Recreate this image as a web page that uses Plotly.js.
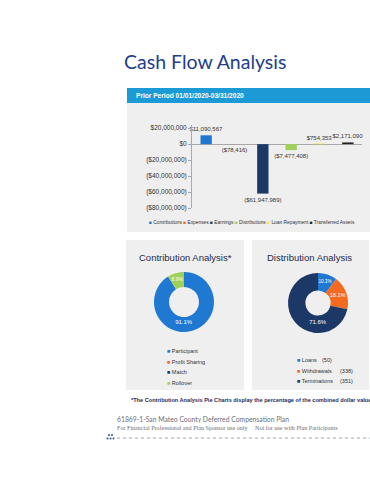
<!DOCTYPE html>
<html>
<head>
<meta charset="utf-8">
<script src="https://cdn.plot.ly/plotly-3.0.1.min.js"></script>
<style>html,body{margin:0;padding:0;background:#fff;}#chart{width:370px;height:480px;}</style>
</head>
<body>
<div id="chart"></div>
<script>
// ---- data ----
const categories = ['Contributions', 'Expenses', 'Earnings', 'Distributions', 'Loan Repayment', 'Transferred Assets'];
const cashFlow = [11090567, -78416, -61947989, -7477408, 754353, 2171090];
const yTickVals = [20000000, 0, -20000000, -40000000, -60000000, -80000000];

const contribLabels = ['Participant', 'Profit Sharing', 'Match', 'Rollover'];
const contribShare = [91.1, 0, 0, 8.9];

const distLabels = ['Loans', 'Withdrawals', 'Terminations'];
const distShare = [10.3, 18.1, 71.6];
const distCounts = [50, 338, 351];

// ---- styles ----
const barColors = ['#1f78d1', '#f26b21', '#1c3866', '#a0d05a', '#f3e547', '#222222'];
const contribColors = ['#1f78d1', '#f26b21', '#1c3866', '#a0d05a'];
const distColors = ['#1f78d1', '#f26b21', '#1c3866'];

const W = 370, H = 480;
const px = x => x / W;
const py = y => 1 - y / H;

function money(v) {
  const s = '$' + Math.abs(v).toLocaleString('en-US');
  return v < 0 ? '(' + s + ')' : s;
}

const barTrace = {
  type: 'bar',
  x: categories,
  y: cashFlow,
  marker: {color: barColors},
  text: cashFlow.map(money),
  textposition: 'outside',
  constraintext: 'none',
  textfont: {family: 'Liberation Sans, Arial, sans-serif', size: 6, color: '#333'},
  cliponaxis: false,
  hoverinfo: 'x+y',
  showlegend: false
};

const contribPie = {
  type: 'pie',
  labels: contribLabels,
  values: contribShare,
  hole: 0.5,
  sort: false,
  direction: 'clockwise',
  rotation: 0,
  marker: {colors: contribColors},
  texttemplate: '%{percent:.1%}',
  textposition: 'inside',
  insidetextorientation: 'horizontal',
  insidetextfont: {family: 'Liberation Sans, Arial, sans-serif', size: 6, color: '#fff'},
  domain: {x: [px(154), px(214)], y: [py(332), py(272)]},
  showlegend: false
};

const distPie = {
  type: 'pie',
  labels: distLabels,
  values: distShare,
  hole: 0.42,
  sort: false,
  direction: 'clockwise',
  rotation: 0,
  marker: {colors: distColors},
  texttemplate: '%{percent:.1%}',
  textposition: 'inside',
  insidetextorientation: 'horizontal',
  insidetextfont: {family: 'Liberation Sans, Arial, sans-serif', size: 6, color: '#fff'},
  domain: {x: [px(288), px(348)], y: [py(333), py(273)]},
  showlegend: false
};

const shapes = [
  {type: 'rect', xref: 'paper', yref: 'paper', x0: px(127), x1: px(370), y0: py(103), y1: py(88), fillcolor: '#1b9ad6', line: {width: 0}, layer: 'below'},
  {type: 'rect', xref: 'paper', yref: 'paper', x0: px(127), x1: px(370), y0: py(232), y1: py(103), fillcolor: '#efefef', line: {width: 0}, layer: 'below'},
  {type: 'rect', xref: 'paper', yref: 'paper', x0: px(126), x1: px(244), y0: py(390), y1: py(240), fillcolor: '#efefef', line: {width: 0}, layer: 'below'},
  {type: 'rect', xref: 'paper', yref: 'paper', x0: px(252), x1: px(369), y0: py(390), y1: py(240), fillcolor: '#efefef', line: {width: 0}, layer: 'below'},
  {type: 'line', xref: 'paper', yref: 'paper', x0: px(117), x1: px(370), y0: py(438), y1: py(438), line: {color: '#9aa3b5', width: 1, dash: 'dot'}}
];
[[109, 435], [112, 435], [107.5, 438.5], [110.5, 438.5], [113.5, 438.5]].forEach(function (d) {
  shapes.push({type: 'circle', xref: 'paper', yref: 'paper', x0: px(d[0] - 1), x1: px(d[0] + 1), y0: py(d[1] + 1), y1: py(d[1] - 1), fillcolor: '#2a4f96', line: {width: 0}});
});

const sq = c => '<span style="color:' + c + '">■</span>';
const barLegend = categories.map((c, i) => sq(barColors[i]) + ' ' + c).join(' ');

function note(text, x, y, xanchor, font) {
  return {text: text, xref: 'paper', yref: 'paper', x: px(x), y: py(y), xanchor: xanchor, yanchor: 'middle', showarrow: false, font: font};
}
const sans = 'Liberation Sans, Arial, sans-serif';
const annotations = [
  note('Cash Flow Analysis', 122, 61, 'left', {family: 'Lato, Open Sans, sans-serif', size: 19.5, color: '#22408a'}),
  note('<b>Prior Period 01/01/2020-03/31/2020</b>', 134, 96, 'left', {family: sans, size: 6.6, color: '#fff'}),
  note(barLegend, 147, 222, 'left', {family: sans, size: 4.85, color: '#333'}),
  note('Contribution Analysis*', 185, 257, 'center', {family: sans, size: 9.5, color: '#1e2a48'}),
  note('Distribution Analysis', 309, 257, 'center', {family: sans, size: 9.5, color: '#1e2a48'}),
  note('<b>*The Contribution Analysis Pie Charts display the percentage of the combined dollar value of the contributions.</b>', 129, 400, 'left', {family: sans, size: 5.6, color: '#1e2d5c'}),
  note('61869-1-San Mateo County Deferred Compensation Plan', 115, 419, 'left', {family: 'Lato, Open Sans, sans-serif', size: 6.8, color: '#6d6f78'}),
  note('For Financial Professional and Plan Sponsor use only     Not for use with Plan Participants', 115, 428, 'left', {family: 'Liberation Serif, Times New Roman, serif', size: 6.1, color: '#6d6f78'})
];
const contribY = [351, 361.5, 372, 382.5];
contribLabels.forEach(function (l, i) {
  annotations.push(note(sq(contribColors[i]) + ' ' + l, 165, contribY[i], 'left', {family: sans, size: 5.5, color: '#333'}));
});
const distY = [360, 370.5, 381];
distLabels.forEach(function (l, i) {
  annotations.push(note(sq(distColors[i]) + ' ' + l, 295, distY[i], 'left', {family: sans, size: 5.5, color: '#333'}));
  annotations.push(note('(' + distCounts[i] + ')', i === 0 ? 320 : 338, distY[i], 'left', {family: sans, size: 5.5, color: '#333'}));
});

const layout = {
  width: W, height: H,
  margin: {l: 0, r: 0, t: 0, b: 0},
  paper_bgcolor: '#fff',
  plot_bgcolor: 'rgba(0,0,0,0)',
  showlegend: false,
  bargap: 0.6,
  xaxis: {domain: [px(192), px(362)], range: [-0.5, 5.5], showticklabels: false, showgrid: false, zeroline: false, showline: false, fixedrange: true},
  yaxis: {domain: [py(208), py(125)], range: [-80000000, 24000000], tickvals: yTickVals, ticktext: yTickVals.map(money),
    showgrid: false, zeroline: true, zerolinecolor: '#a8a8a8', zerolinewidth: 1, showline: true, linecolor: '#a8a8a8', linewidth: 1,
    ticks: 'outside', ticklen: 3, tickcolor: '#a8a8a8', tickfont: {family: sans, size: 6.5, color: '#333'}, fixedrange: true},
  shapes: shapes,
  annotations: annotations
};

Plotly.newPlot('chart', [barTrace, contribPie, distPie], layout, {displayModeBar: false, staticPlot: true});
</script>
</body>
</html>
